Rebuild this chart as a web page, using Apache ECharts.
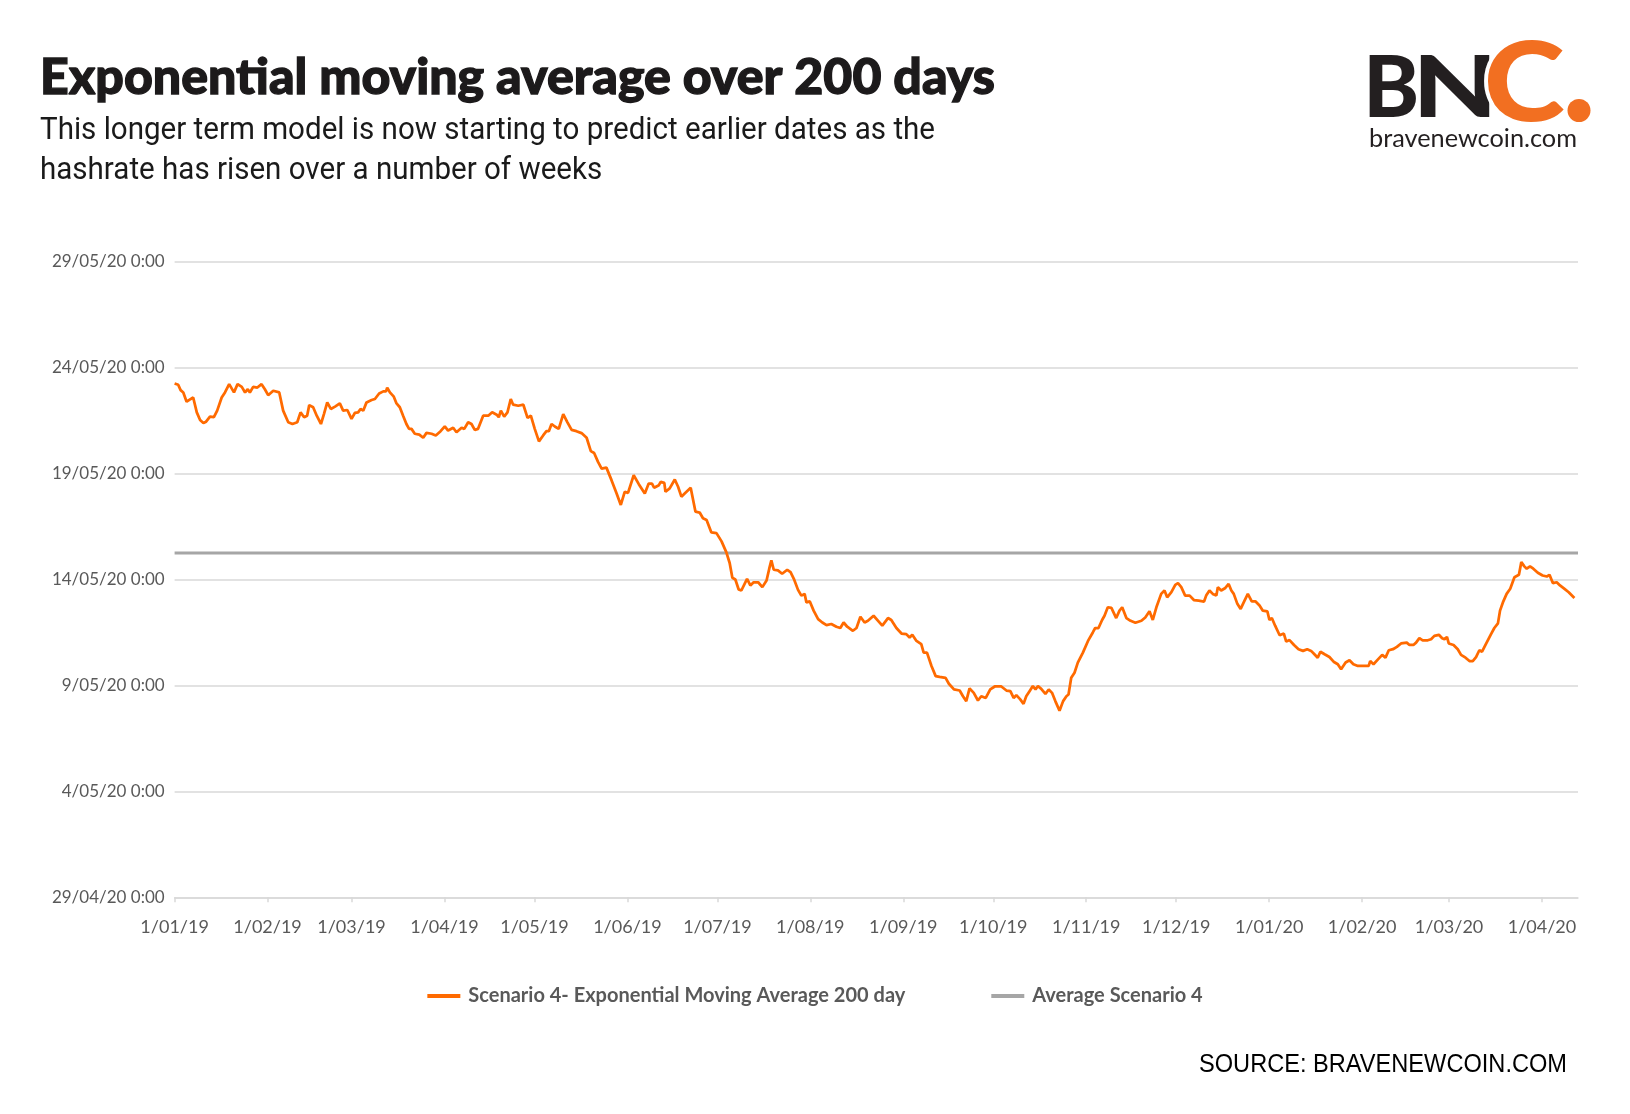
<!DOCTYPE html>
<html>
<head>
<meta charset="utf-8">
<script src="https://cdn.jsdelivr.net/npm/echarts@6/dist/echarts.min.js"></script>
<style>
html,body{margin:0;padding:0;background:#ffffff;}
#chart{width:1630px;height:1114px;}
</style>
</head>
<body>
<div id="chart"></div>
<script>
// ---------------- DATA ----------------
const titleText = 'Exponential moving average over 200 days';
const subtitleLines = [
  'This longer term model is now starting to predict earlier dates as the',
  'hashrate has risen over a number of weeks'
];
const sourceText = 'SOURCE: BRAVENEWCOIN.COM';
const seriesNames = ['Scenario 4- Exponential Moving Average 200 day', 'Average Scenario 4'];

// x-axis tick labels (month starts) and axis end date
const monthLabels = ['1/01/19','1/02/19','1/03/19','1/04/19','1/05/19','1/06/19','1/07/19','1/08/19',
  '1/09/19','1/10/19','1/11/19','1/12/19','1/01/20','1/02/20','1/03/20','1/04/20'];
const axisEndDate = '13/04/20';

// y-axis tick labels (predicted date)
const yTickLabels = ['29/04/20 0:00','4/05/20 0:00','9/05/20 0:00','14/05/20 0:00','19/05/20 0:00','24/05/20 0:00','29/05/20 0:00'];

// observation date: days after 1/01/19
const dayOffsets = [
  0,1.2,2.0,2.9,4.0,4.9,6.2,7.4,8.5,9.6,10.5,11.8,13.1,14.2,15.7,16.8,18.2,19.8,21.0,22.4,23.5,24.4,25.1,26.2,27.6,29.0,30.1,31.2,32.9,34.9,
  36.2,37.9,39.3,40.9,42.0,43.2,44.2,44.9,46.2,47.4,48.8,49.8,50.9,52.1,53.5,55.1,56.2,57.6,59.0,60.1,61.2,62.0,62.9,64.0,65.7,66.8,68.2,69.6,70.5,70.9,
  71.8,73.1,74.0,75.1,76.2,77.3,78.2,79.0,80.1,81.6,82.9,84.0,85.7,87.1,88.7,90.1,91.2,92.9,94.0,
  95.7,96.6,97.9,99.0,100.1,101.2,102.9,104.6,105.9,107.4,108.1,108.8,109.9,111.0,112.1,112.9,114.6,116.3,117.7,118.8,120.1,121.5,122.9,124.0,124.8,125.7,
  126.8,128.1,129.6,131.0,132.4,134.0,135.7,137.4,138.8,139.9,141.2,142.4,144.0,145.7,147.4,148.8,150.1,151.2,153.1,154.8,156.8,158.1,159.2,159.9,161.5,162.1,
  163.3,163.7,165.1,166.8,167.9,169.0,170.1,172.1,173.7,175.1,176.2,177.4,179.0,180.7,182.4,184.0,185.1,186.0,187.0,188.1,189.0,
  190.9,192.0,193.1,194.6,196.0,197.4,198.3,199.0,199.8,201.2,202.6,204.3,205.4,206.5,207.9,209.0,210.1,210.7,211.8,213.1,214.6,216.0,217.4,219.0,220.7,222.0,
  223.1,224.3,226.2,227.4,228.7,230.1,231.2,233.1,234.6,236.0,237.9,239.0,240.7,242.4,244.0,245.1,246.0,247.4,249.0,249.8,250.9,252.4,253.8,255.1,257.1,258.2,
  259.9,261.8,262.9,264.0,265.1,266.5,267.9,269.0,270.5,272.0,273.5,275.7,277.4,278.7,279.8,280.7,282.0,283.1,284.0,285.1,
  286.2,287.1,287.9,289.0,290.4,291.5,292.6,293.7,295.1,296.3,297.4,298.1,299.0,300.1,301.2,302.9,304.6,306.2,307.0,308.1,309.3,310.1,311.2,312.4,314.0,315.1,
  316.0,317.4,318.8,320.4,322.4,323.7,325.1,326.2,327.4,329.0,330.1,331.0,332.4,333.7,334.6,335.7,337.0,338.5,339.9,341.5,343.3,344.0,345.1,346.2,347.4,347.9,
  349.0,350.4,351.5,352.4,353.2,354.4,355.5,356.8,357.9,359.2,360.4,361.8,362.9,364.4,365.1,365.9,367.0,368.5,369.9,370.7,371.8,373.3,374.8,376.3,377.7,379.0,380.1,
  381.2,382.1,383.5,385.1,386.5,387.9,389.0,390.5,391.8,393.1,394.6,396.8,398.2,398.7,399.8,401.3,402.7,403.8,404.9,406.3,407.6,409.0,410.9,411.8,413.1,414.0,
  415.1,416.2,417.9,419.0,420.1,421.6,422.7,423.5,424.3,424.9,426.5,427.9,429.0,430.5,431.8,432.9,434.0,435.1,436.0,437.4,439.0,440.1,441.3,442.0,443.1,444.2,
  445.4,446.8,448.3,449.1,450.1,450.9,452.0,453.1,454.6,456.2,457.6,458.5,459.6,460.9,462.0,463.5,464.9,466.8
];

// predicted date, as day of year 2020 (120 = 29/04/20 0:00)
const predictedDay = [
  144.25,144.19,143.94,143.83,143.39,143.48,143.59,142.89,142.53,142.39,142.45,142.69,142.66,142.97,143.59,143.83,144.22,143.83,144.22,144.09,143.83,143.98,143.83,144.09,144.06,144.22,143.98,143.70,143.91,143.83,
  142.97,142.42,142.34,142.42,142.89,142.66,142.73,143.23,143.13,142.73,142.34,142.81,143.36,143.05,143.16,143.31,142.97,143.00,142.58,142.86,142.89,143.05,142.97,143.36,143.47,143.52,143.78,143.88,143.88,144.06,
  143.83,143.63,143.31,143.13,142.73,142.34,142.11,142.11,141.88,141.84,141.69,141.92,141.88,141.80,142.00,142.23,142.03,142.16,141.95,
  142.16,142.11,142.42,142.34,142.06,142.11,142.73,142.73,142.89,142.78,142.66,142.97,142.69,142.89,143.52,143.25,143.20,143.25,142.63,142.73,142.11,141.52,141.80,142.00,142.00,142.34,
  142.22,142.11,142.81,142.42,142.06,142.00,141.91,141.69,141.06,140.97,140.55,140.23,140.28,139.69,139.06,138.52,139.14,139.09,139.92,139.50,139.06,139.53,139.53,139.33,139.45,139.61,
  139.56,139.14,139.30,139.72,139.38,138.91,139.06,139.33,138.20,138.16,137.89,137.81,137.22,137.19,136.80,136.28,135.78,135.08,135.00,134.53,134.48,
  135.03,134.72,134.87,134.87,134.64,134.95,135.51,135.90,135.46,135.43,135.27,135.46,135.35,135.03,134.51,134.24,134.32,133.92,133.97,133.53,133.13,132.97,132.85,132.90,132.77,132.71,
  132.97,132.77,132.58,132.71,133.24,132.97,133.05,133.29,133.05,132.82,133.18,133.09,132.71,132.45,132.42,132.26,132.39,132.10,131.95,131.55,131.55,130.92,130.44,130.40,130.36,130.08,
  129.81,129.76,129.49,129.26,129.86,129.65,129.29,129.49,129.41,129.81,129.95,129.95,129.76,129.73,129.41,129.54,129.34,129.13,129.49,129.73,
  129.97,129.81,129.97,129.84,129.60,129.81,129.65,129.26,128.81,129.26,129.49,129.57,130.36,130.60,131.08,131.55,132.10,132.50,132.71,132.71,133.09,133.29,133.69,133.66,133.18,133.53,
  133.69,133.18,133.05,132.96,133.05,133.21,133.50,133.09,133.69,134.32,134.48,134.16,134.40,134.75,134.83,134.64,134.24,134.24,134.03,134.00,133.96,134.24,134.48,134.32,134.24,134.64,
  134.48,134.60,134.79,134.48,134.32,133.85,133.61,134.00,134.32,133.97,133.97,133.77,133.53,133.50,133.09,133.18,132.82,132.37,132.45,132.07,132.14,131.91,131.71,131.63,131.71,131.63,131.47,
  131.31,131.59,131.47,131.34,131.12,131.00,130.76,131.08,131.19,131.00,130.92,130.92,130.92,131.15,131.00,131.23,131.44,131.31,131.66,131.71,131.82,131.98,132.02,131.91,131.91,132.02,
  132.23,132.13,132.13,132.18,132.34,132.39,132.23,132.18,132.29,131.98,131.91,131.71,131.44,131.31,131.15,131.15,131.34,131.66,131.59,131.98,132.42,132.71,132.93,133.53,133.97,134.32,
  134.56,135.11,135.22,135.82,135.62,135.51,135.62,135.51,135.32,135.19,135.14,135.22,134.83,134.87,134.72,134.56,134.40,134.13
];

const averagePredictedDay = 136.25; // 15/05/20 ~06:00

// ---------------- HELPERS ----------------
function parseDMY(s) {
  const p = s.split(' ')[0].split('/').map(Number);
  return Date.UTC(2000 + p[2], p[1] - 1, p[0]);
}
const DAY = 86400000;
const xOrigin = parseDMY(monthLabels[0]);
const toX = s => Math.round((parseDMY(s) - xOrigin) / DAY);
const toYearDay = s => Math.round((parseDMY(s) - Date.UTC(2020, 0, 1)) / DAY) + 1;

const xTicks = monthLabels.map(toX);
const xLabelMap = {};
monthLabels.forEach((l, i) => { xLabelMap[xTicks[i]] = l; });
const xEnd = toX(axisEndDate);

const yTicks = yTickLabels.map(toYearDay);
const yLabelMap = {};
yTickLabels.forEach((l, i) => { yLabelMap[yTicks[i]] = l; });

const mainData = dayOffsets.map((d, i) => [d, predictedDay[i]]);
const avgData = [[0, averagePredictedDay], [xEnd, averagePredictedDay]];

const measureCtx = document.createElement('canvas').getContext('2d');
function fit(text, font, width) {
  measureCtx.font = font;
  measureCtx.textBaseline = 'alphabetic';
  return width / measureCtx.measureText(text).width;
}
// place a glyph's ink box into a target box (zrender draws single lines with textBaseline 'middle')
function inkBox(text, font, fill, left, top, right, bottom, extraStyle) {
  measureCtx.font = font;
  measureCtx.textAlign = 'left';
  measureCtx.textBaseline = 'middle';
  const m = measureCtx.measureText(text);
  const L = m.actualBoundingBoxLeft, R = m.actualBoundingBoxRight;
  const A = m.actualBoundingBoxAscent, D = m.actualBoundingBoxDescent;
  const sx = (right - left) / (L + R);
  const sy = (bottom - top) / (A + D);
  return {
    type: 'text', x: left + L * sx, y: top + A * sy, scaleX: sx, scaleY: sy,
    style: Object.assign({ text: text, x: 0, y: 0, font: font, fill: fill, textAlign: 'left', textVerticalAlign: 'middle' }, extraStyle || {})
  };
}

// ---------------- CHART ----------------
const chart = echarts.init(document.getElementById('chart'), null, { renderer: 'canvas' });

const titleFont = '900 50px Lato';
const subFont = '400 31px Roboto';
const subScale = fit(subtitleLines[0], subFont, 895);
const srcFont = '26px "Liberation Sans"';
const urlFont = '400 25px Lato';

const logoDark = '#231f20';
const logoOrange = '#f26f21';

const option = {
  animation: false,
  backgroundColor: '#ffffff',
  grid: { left: 174.6, right: 52, top: 261.7, bottom: 216.7, containLabel: false },
  xAxis: {
    type: 'value',
    min: 0,
    max: xEnd,
    axisLine: { show: true, lineStyle: { color: '#d9d9d9', width: 1.5 } },
    axisTick: { show: true, customValues: xTicks, length: 5, lineStyle: { color: '#d9d9d9', width: 1.5 } },
    axisLabel: {
      customValues: xTicks,
      formatter: v => xLabelMap[Math.round(v)] || '',
      color: '#595959', fontFamily: 'Lato', fontSize: 18, margin: 21
    },
    splitLine: { show: false }
  },
  yAxis: {
    type: 'value',
    min: yTicks[0],
    max: yTicks[yTicks.length - 1],
    interval: yTicks[1] - yTicks[0],
    axisLine: { show: false },
    axisTick: { show: false },
    axisLabel: {
      formatter: v => yLabelMap[Math.round(v)] || '',
      color: '#595959', fontFamily: 'Lato', fontSize: 17, margin: 10
    },
    splitLine: { show: true, lineStyle: { color: '#d9d9d9', width: 1.5 } }
  },
  legend: {
    data: [seriesNames[0], seriesNames[1]],
    left: 'center',
    top: 986,
    padding: 0,
    icon: 'rect',
    itemWidth: 33,
    itemHeight: 4,
    itemGap: 86,
    textStyle: { fontFamily: 'Lato', fontWeight: 'bold', fontSize: 20, color: '#595959', padding: [0, 0, 0, 3] }
  },
  series: [
    {
      name: seriesNames[1],
      type: 'line',
      data: avgData,
      showSymbol: false,
      color: '#a6a6a6',
      lineStyle: { color: '#a6a6a6', width: 3 },
      z: 2,
      silent: true
    },
    {
      name: seriesNames[0],
      type: 'line',
      data: mainData,
      showSymbol: false,
      color: '#ff6a00',
      lineStyle: { color: '#ff6a00', width: 2.75 },
      z: 3
    }
  ],
  graphic: [
    { type: 'text', x: 40, y: 78, scaleX: fit(titleText, titleFont, 955),
      style: { text: titleText, x: 0, y: 0, font: titleFont, fill: '#1c1a1b', stroke: '#1c1a1b', lineWidth: 1.3, textAlign: 'left', textVerticalAlign: 'middle' } },
    { type: 'text', x: 40, y: 131, scaleX: subScale,
      style: { text: subtitleLines[0], x: 0, y: 0, font: subFont, fill: '#1a1a1a', textAlign: 'left', textVerticalAlign: 'middle' } },
    { type: 'text', x: 40, y: 171, scaleX: subScale,
      style: { text: subtitleLines[1], x: 0, y: 0, font: subFont, fill: '#1a1a1a', textAlign: 'left', textVerticalAlign: 'middle' } },
    // logo
    inkBox('B', '900 88px Lato', logoDark, 1369, 54, 1416, 117),
    inkBox('N', '900 88px Lato', logoDark, 1420, 54, 1490, 117),
    inkBox('C', '900 110px Lato', logoOrange, 1487, 40, 1564, 122, { stroke: '#ffffff', lineWidth: 7, strokeFirst: true }),
    { type: 'circle', shape: { cx: 1579, cy: 110.5, r: 11.5 }, style: { fill: logoOrange } },
    { type: 'text', x: 1369, y: 139, scaleX: fit('bravenewcoin.com', urlFont, 208),
      style: { text: 'bravenewcoin.com', x: 0, y: 0, font: urlFont, fill: logoDark, textAlign: 'left', textVerticalAlign: 'middle' } },
    // source
    { type: 'text', x: 1567, y: 1065, scaleX: fit(sourceText, srcFont, 368),
      style: { text: sourceText, x: 0, y: 0, font: srcFont, fill: '#000000', textAlign: 'right', textVerticalAlign: 'middle' } }
  ]
};

chart.setOption(option);
</script>
</body>
</html>
